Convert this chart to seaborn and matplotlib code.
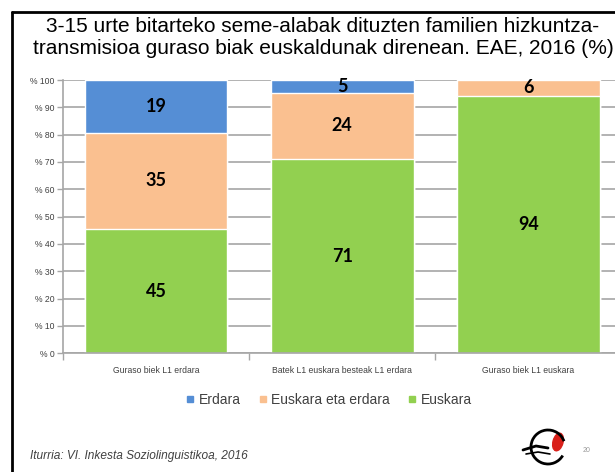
import numpy as np
import pandas as pd
import seaborn as sns
import matplotlib
matplotlib.use("Agg")
import matplotlib.pyplot as plt
from matplotlib.lines import Line2D
from matplotlib import patches

# ---- data ----
categories = ["Guraso biek L1 erdara", "Batek L1 euskara besteak L1 erdara", "Guraso biek L1 euskara"]
euskara = [45.4, 71.2, 94.2]
euskara_eta_erdara = [35.3, 24.0, 5.8]
erdara = [19.3, 4.8, 0.0]
series_names = ["Erdara", "Euskara eta erdara", "Euskara"]
yticks = list(range(0, 101, 10))

title = ("3-15 urte bitarteko seme-alabak dituzten familien hizkuntza-\n"
         "transmisioa guraso biak euskaldunak direnean. EAE, 2016 (%)")
source = "Iturria: VI. Inkesta Soziolinguistikoa, 2016"

c_blue = "#558ED5"
c_peach = "#FAC090"
c_green = "#92D050"
grid_c = "#a6a6a6"
txt_c = "#404040"

sns.set_theme(style="white")
plt.rcParams["font.family"] = ["Liberation Sans", "DejaVu Sans"]

fig = plt.figure(figsize=(6.15, 4.72), dpi=100)
W, H = 615, 472
ax = fig.add_axes([63 / W, (H - 353.3) / H, (621.5 - 63) / W, (353.3 - 80) / H])

df = pd.DataFrame({"cat": categories, "eus": euskara, "mix": euskara_eta_erdara, "erd": erdara})
df["c2"] = df["eus"] + df["mix"]
df["c3"] = df["c2"] + df["erd"]

for col, color in [("c3", c_blue), ("c2", c_peach), ("eus", c_green)]:
    sns.barplot(data=df, x="cat", y=col, color=color, saturation=1, errorbar=None,
                width=0.767, edgecolor="white", linewidth=1.0, ax=ax, zorder=2)

# value labels
for i in range(len(categories)):
    bottom = 0.0
    for v in [euskara[i], euskara_eta_erdara[i], erdara[i]]:
        if v > 0:
            ax.text(i, bottom + v / 2, f"{v:.0f}", ha="center", va="center",
                    fontsize=13, fontweight="bold", color="black",
                    family=["Lato", "DejaVu Sans"], zorder=5)
        bottom += v

ax.set_ylim(0, 100)
ax.set_xlim(-0.5, 2.5)
ax.set_yticks(yticks)
ax.set_yticklabels([f"% {t}" for t in yticks], fontsize=6.2, color=txt_c)
ax.yaxis.grid(True, color=grid_c, linewidth=1.2)
ax.xaxis.grid(False)
ax.set_axisbelow(True)
ax.set_xlabel("")
ax.set_ylabel("")
for s in ["top", "right"]:
    ax.spines[s].set_visible(False)
for s in ["left", "bottom"]:
    ax.spines[s].set_color(grid_c)
    ax.spines[s].set_linewidth(1.2)

ax.set_xticks(range(len(categories)))
ax.set_xticklabels(categories, fontsize=6.2, color=txt_c)
ax.set_xticks([-0.5, 0.5, 1.5, 2.5], minor=True)
ax.tick_params(axis="x", which="major", length=0, pad=9, bottom=True)
ax.tick_params(axis="x", which="minor", length=5, width=1, color=grid_c, direction="out", bottom=True)
ax.tick_params(axis="y", which="major", length=4, width=1, color=grid_c, direction="out", left=True, pad=2)

# legend
handles = [Line2D([0], [0], marker="s", linestyle="", markersize=4.5, markerfacecolor=c, markeredgecolor=c)
           for c in [c_blue, c_peach, c_green]]
fig.legend(handles, series_names, loc="center", bbox_to_anchor=(329 / W, 1 - 400 / H),
           ncol=3, frameon=False, fontsize=10, handlelength=0.6, handletextpad=0.3,
           columnspacing=1.3, labelcolor=txt_c)

# title and source
fig.text(323 / W, 1 - 37 / H, title, ha="center", va="center", fontsize=15,
         linespacing=1.2, color="black")
fig.text(30 / W, 1 - 456 / H, source, ha="left", va="center", fontsize=8.6,
         style="italic", color=txt_c)
fig.text(583 / W, 1 - 450 / H, "20", ha="left", va="center", fontsize=5, color="#999999")

# slide frame
fig.add_artist(Line2D([11.5 / W, 11.5 / W], [0, 1 - 12 / H], color="black", lw=2))
fig.add_artist(Line2D([11.5 / W, 1], [1 - 12 / H, 1 - 12 / H], color="black", lw=2))

# simple bird logo
logo_ax = fig.add_axes([518 / W, 1 - 472 / H, 56 / W, 50 / H])
logo_ax.set_xlim(0, 56)
logo_ax.set_ylim(0, 50)
logo_ax.axis("off")
logo_ax.add_patch(patches.Ellipse((40, 30), 10, 18, angle=-15, color="#d9201a"))
logo_ax.add_patch(patches.Arc((30, 25), 34, 34, theta1=20, theta2=330, color="black", lw=2))
logo_ax.plot([5, 18, 30], [22, 26, 24], color="black", lw=2)
logo_ax.plot([8, 20, 32], [18, 20, 18], color="black", lw=1.2)

fig.savefig("out.png", dpi=100)
